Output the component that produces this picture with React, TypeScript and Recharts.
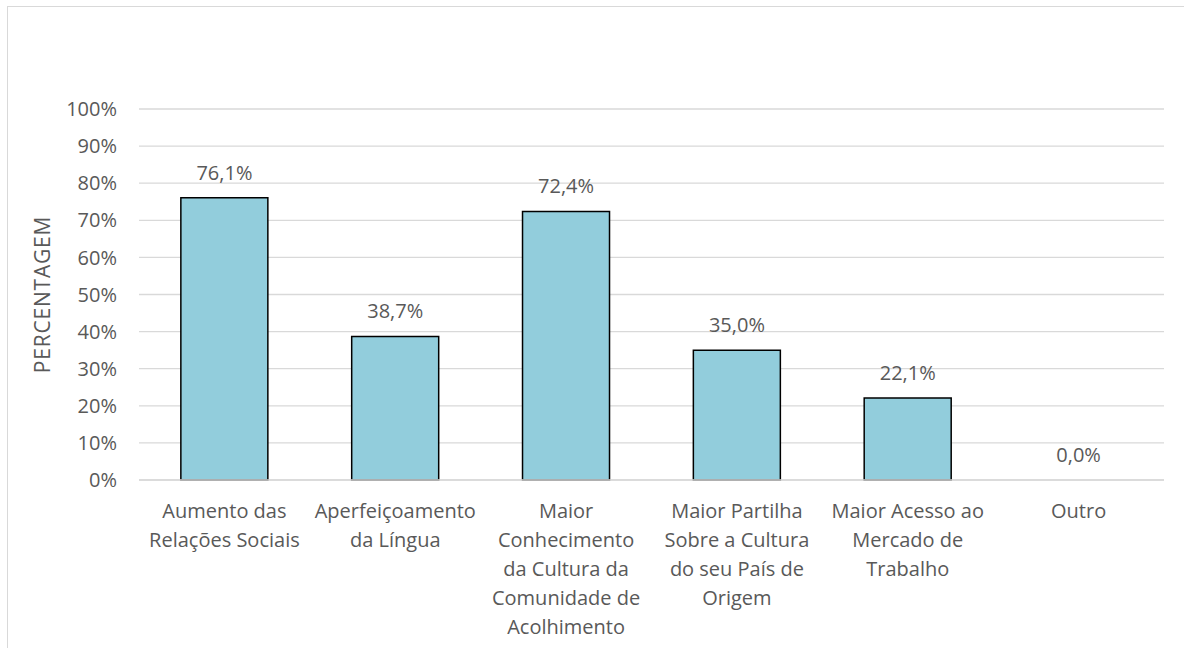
import React from 'react'
import { BarChart, Bar, XAxis, YAxis, CartesianGrid, ReferenceDot } from 'recharts'

const categories = [
  ['Aumento das', 'Relações Sociais'],
  ['Aperfeiçoamento', 'da Língua'],
  ['Maior', 'Conhecimento', 'da Cultura da', 'Comunidade de', 'Acolhimento'],
  ['Maior Partilha', 'Sobre a Cultura', 'do seu País de', 'Origem'],
  ['Maior Acesso ao', 'Mercado de', 'Trabalho'],
  ['Outro'],
]
const values = [76.1, 38.7, 72.4, 35.0, 22.1, 0.0]
const yTicks = [0, 10, 20, 30, 40, 50, 60, 70, 80, 90, 100]

const data = categories.map((lines, i) => ({ name: lines.join(' '), lines, value: values[i] }))

const FONT = '"Open Sans", sans-serif'
const TEXT = '#595959'

function pct(v: number) {
  return `${v.toFixed(1).replace('.', ',')}%`
}

function CategoryTick(props: any) {
  const { x, y, index } = props
  const lines = categories[index] ?? []
  return (
    <text x={x} y={y + 38} textAnchor="middle" fill={TEXT} fontSize={20} fontFamily={FONT}>
      {lines.map((l, i) => (
        <tspan key={i} x={x} dy={i === 0 ? 0 : 29}>{l}</tspan>
      ))}
    </text>
  )
}

export default function App() {
  return (
    <div
      style={{
        position: 'absolute',
        left: 7,
        top: 6,
        width: 1180,
        height: 660,
        border: '1px solid #d9d9d9',
        background: '#fff',
      }}
    >
      <BarChart
        width={1180}
        height={660}
        data={data}
        margin={{ top: 102, right: 24, bottom: 27, left: 0 }}
        barCategoryGap="24.5%"
      >
        <CartesianGrid vertical={false} stroke="#d9d9d9" strokeWidth={1.3} />
        <XAxis
          dataKey="name"
          interval={0}
          height={160}
          tickSize={0}
          tickMargin={0}
          axisLine={{ stroke: '#d9d9d9', strokeWidth: 1.3 }}
          tick={<CategoryTick />}
        />
        <YAxis
          domain={[0, 100]}
          ticks={yTicks}
          width={131}
          tickSize={0}
          tickMargin={22}
          axisLine={false}
          tickLine={false}
          tickFormatter={(v: number) => `${v}%`}
          tick={{ fill: TEXT, fontSize: 20, fontFamily: FONT }}
          label={{
            content: (p: any) => {
              const vb = p.viewBox
              const cy = vb.y + vb.height / 2
              return (
                <text
                  x={34}
                  y={cy}
                  transform={`rotate(-90 34 ${cy})`}
                  textAnchor="middle"
                  dominantBaseline="central"
                  fill={TEXT}
                  fontSize={21}
                  letterSpacing={0.8}
                  fontFamily={FONT}
                >
                  PERCENTAGEM
                </text>
              )
            },
          }}
        />
        <Bar
          dataKey="value"
          fill="#92cddc"
          stroke="#000"
          strokeWidth={1.5}
          isAnimationActive={false}
        />
        {data.map((d) => (
          <ReferenceDot
            key={d.name}
            x={d.name}
            y={d.value}
            r={1}
            fill="none"
            stroke="none"
            label={{
              content: (p: any) => {
                const vb = p.viewBox
                const cx = vb.x + vb.width / 2
                const cy = vb.y + vb.height / 2
                return (
                  <text x={cx} y={cy - 18} textAnchor="middle" fill={TEXT} fontSize={20} fontFamily={FONT}>
                    {pct(d.value)}
                  </text>
                )
              },
            }}
          />
        ))}
      </BarChart>
    </div>
  )
}
